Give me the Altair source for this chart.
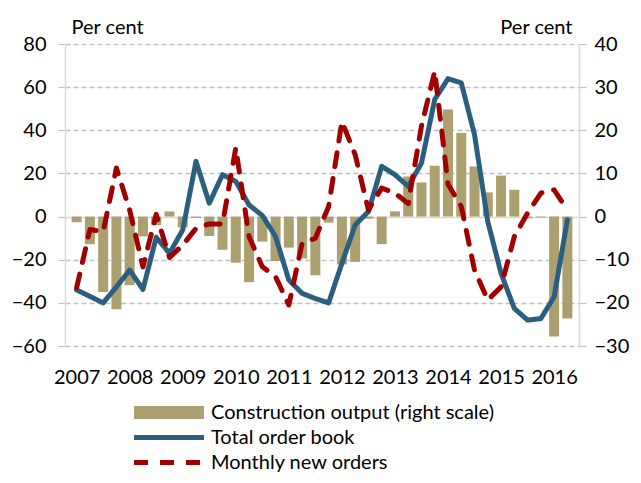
import altair as alt
import pandas as pd

years = list(range(2007, 2017))
quarters = [f"{y} Q{q}" for y in years for q in range(1, 5)][:38]

# Construction output, per cent (right scale)
construction = [-1.3, -6.4, -17.5, -21.5, -15.9, -4.6, -2.0, 1.2, -2.5, -0.3,
                -4.5, -7.7, -10.7, -15.2, -5.8, -10.3, -7.2, -9.7, -13.6, -1.4,
                -11.1, -10.5, -0.5, -6.4, 1.2, 9.3, 7.9, 11.8, 24.8, 19.4,
                11.6, 5.6, 9.5, 6.2, -0.4, -0.2, -27.8, -23.6]

# Total order book, per cent (left scale)
total_order_book = [-34, -37, -40, -32.6, -24.8, -33.8, -9.6, -17, -6.2, 25.6,
                    6.2, 19.4, 16.3, 5.4, 0.5, -9.3, -29.4, -35.6, -38, -40,
                    -21.7, -3.9, 2.3, 23.3, 19.4, 14, 24.8, 54.3, 63.9, 62,
                    38, -2.3, -26.3, -42.6, -48, -47.3, -37.2, -1.5]

# Monthly new orders, per cent (left scale)
monthly_new_orders = [-33, -6, -7, 22.5, 3, -23.3, 1, -19, -13.2, -5.5,
                      -3.4, -3.4, 31.8, -9.3, -23.3, -27.9, -41, -12.4, -10, 4.7,
                      44, 28.7, 3.1, 13.2, 10.9, 6, 41.9, 67.4, 15, 4.7,
                      -24.8, -38.7, -32.6, -9.3, 1.6, 10.9, 12.4, 3.1]

left_ticks = [-60, -40, -20, 0, 20, 40, 60, 80]
right_ticks = [-30, -20, -10, 0, 10, 20, 30, 40]
year_pos = [4 * k + 0.5 for k in range(len(years))]

BAR_NAME = "Construction output (right scale)"
TOTAL_NAME = "Total order book"
MONTHLY_NAME = "Monthly new orders"
TAN = "#ADA070"
BLUE = "#2A5F80"
RED = "#A00000"
FONT = "Lato"
FS = 20
DASH = [14, 12]

pos = [i + 0.5 for i in range(len(quarters))]
bars_df = pd.DataFrame({"pos": pos, "quarter": quarters, "value": construction,
                        "series": BAR_NAME})
lines_df = pd.concat([
    pd.DataFrame({"pos": pos, "quarter": quarters, "value": total_order_book,
                  "series": TOTAL_NAME}),
    pd.DataFrame({"pos": pos, "quarter": quarters, "value": monthly_new_orders,
                  "series": MONTHLY_NAME}),
])

x_enc = alt.X(
    "pos:Q",
    scale=alt.Scale(domain=[0, len(quarters)], nice=False, zero=False),
    axis=alt.Axis(values=year_pos, labelExpr="toString(2007 + floor(datum.value / 4))",
                  title=None, ticks=False, tickSize=0, domain=False, grid=False,
                  labelFlush=False, labelOverlap=False, labelBound=False,
                  labelPadding=21, labelFont=FONT, labelFontSize=FS, labelColor="#000"),
)

bar_legend = alt.Legend(
    title=None, orient="none", legendX=69, legendY=357, direction="vertical",
    padding=0, labelFont=FONT, labelFontSize=FS, labelColor="#000", labelLimit=0,
    symbolType="M-1,-0.186H1V0.186H-1Z", symbolSize=4900, symbolStrokeWidth=0,
    symbolOpacity=1, clipHeight=23, rowPadding=2, labelOffset=7,
)

line_legend = alt.Legend(
    title=None, orient="none", legendX=66.5, legendY=382, direction="vertical",
    padding=0, labelFont=FONT, labelFontSize=FS, labelColor="#000", labelLimit=0,
    symbolType="stroke", symbolSize=4900, symbolStrokeWidth=5,
    symbolOpacity=1, clipHeight=23, rowPadding=2, labelOffset=4.5,
)

fill_enc = alt.Fill("series:N",
                    scale=alt.Scale(domain=[BAR_NAME], range=[TAN]),
                    legend=bar_legend)

color_enc = alt.Color("series:N",
                      scale=alt.Scale(domain=[TOTAL_NAME, MONTHLY_NAME], range=[BLUE, RED]),
                      legend=line_legend)
dash_enc = alt.StrokeDash("series:N",
                          scale=alt.Scale(domain=[TOTAL_NAME, MONTHLY_NAME], range=[[1, 0], DASH]),
                          legend=line_legend)

right_axis = alt.Axis(
    orient="right", values=right_ticks, grid=False,
    domainColor="#d9d9d9", domainWidth=1.5, tickColor="#bfbfbf", tickWidth=1.2,
    tickSize=7, labelPadding=8, labelFont=FONT, labelFontSize=FS, labelColor="#000",
    title="Per cent", titleAngle=0, titleX=-7, titleY=-17, titleAlign="right",
    titleBaseline="middle", titleFont=FONT, titleFontSize=FS, titleFontWeight="normal",
    titleColor="#000",
)

left_axis = alt.Axis(
    orient="left", values=left_ticks, grid=True,
    gridDash={"condition": {"test": "datum.value === 0", "value": [1, 0]}, "value": [5, 3]},
    gridColor={"condition": {"test": "datum.value === 0", "value": "#d9d9d9"}, "value": "#bfbfbf"},
    gridWidth=1.3,
    domainColor="#d9d9d9", domainWidth=1.5, tickColor="#bfbfbf", tickWidth=1.2,
    tickSize=7, labelPadding=12, labelFont=FONT, labelFontSize=FS, labelColor="#000",
    title="Per cent", titleAngle=0, titleX=6, titleY=-17, titleAlign="left",
    titleBaseline="middle", titleFont=FONT, titleFontSize=FS, titleFontWeight="normal",
    titleColor="#000",
)

bars = alt.Chart(bars_df).mark_bar(size=10).encode(
    x=x_enc,
    y=alt.Y("value:Q", scale=alt.Scale(domain=[-30, 40], nice=False, zero=False), axis=right_axis),
    fill=fill_enc,
)

lines = alt.Chart(lines_df).mark_line(strokeWidth=5, strokeJoin="round", strokeCap="round").encode(
    x=x_enc,
    y=alt.Y("value:Q", scale=alt.Scale(domain=[-60, 80], nice=False, zero=False), axis=left_axis),
    color=color_enc,
    strokeDash=dash_enc,
    order="pos:Q",
)

chart = alt.layer(bars, lines).resolve_scale(y="independent").properties(
    width=514, height=302,
    autosize=alt.AutoSizeParams(type="none"),
    padding={"left": 57, "top": 36, "right": 54, "bottom": 129},
).configure_view(stroke=None)

chart.save("out.html", embed_options={"renderer": "svg", "actions": False})
